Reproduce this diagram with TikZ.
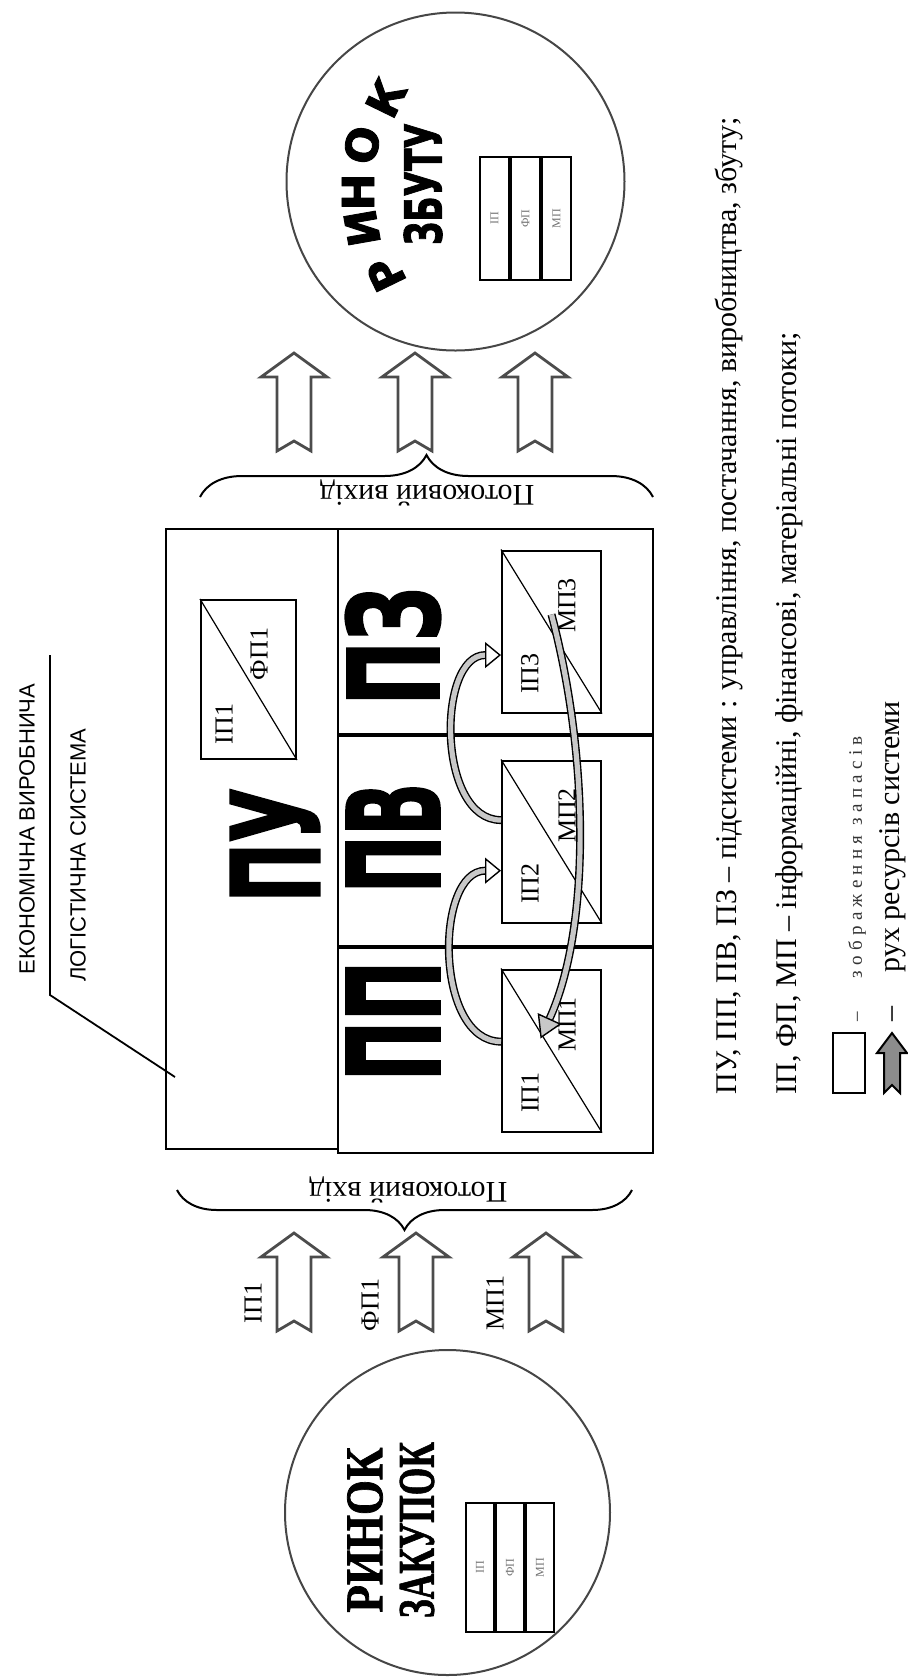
\documentclass[tikz,border=0pt]{standalone}
\usepackage{fontspec}
\setmainfont{Liberation Serif}
\setsansfont{Liberation Sans}
\newfontfamily\heavyfont{DejaVu Sans}[FakeBold=2]
\newfontfamily\wordartfont{Liberation Serif}[FakeBold=1.5]
\newfontfamily\spacedfont{Liberation Serif}[LetterSpace=28]
\usepackage{tikz}
\usetikzlibrary{arrows.meta,positioning,calc,decorations.pathreplacing}
\definecolor{bandgray}{RGB}{200,200,200}
\definecolor{rimgray}{RGB}{70,70,70}
\tikzstyle{subcell}=[draw,line width=1pt,inner sep=0pt]
\tikzstyle{bigsub}=[rotate=90,inner sep=0pt,font=\heavyfont\bfseries]
\tikzstyle{wordart}=[rotate=90,inner sep=0pt,font=\wordartfont\bfseries]
\tikzstyle{stock}=[draw,line width=1pt,minimum width=49.5pt,minimum height=81pt,inner sep=0pt]
\tikzstyle{stockcol}=[draw,line width=1pt,inner sep=0pt]
\tikzstyle{flowlabel}=[rotate=90,inner sep=0pt,font=\fontsize{13}{15}\selectfont]
\tikzstyle{tinylabel}=[rotate=90,inner sep=0pt,font=\fontsize{6}{7}\selectfont,text=black!55]
\tikzstyle{flowband}=[draw,line width=0.7pt,double=bandgray,double distance=2.6pt]
\tikzstyle{blockline}=[draw=black!70,line width=1.4pt,fill=white,line join=miter]
\tikzstyle{market}=[circle,draw=rimgray,line width=1pt,inner sep=0pt]
\tikzstyle{flowbrace}=[decorate,line width=1pt]
\tikzstyle{bracetext}=[rotate=180,inner sep=0pt,font=\fontsize{15}{17}\selectfont]
\tikzstyle{legend}=[rotate=90,anchor=west,inner sep=0pt,font=\fontsize{15}{17}\selectfont]
\tikzstyle{systext}=[rotate=90,inner sep=0pt,font=\sffamily\fontsize{11}{13}\selectfont]
\tikzset{
  blockup/.pic={
    \draw[blockline] (0,0) -- (33,24) -- (17,24) -- (17,98) -- (0,88) -- (-17,98)
      -- (-17,24) -- (-33,24) -- cycle;
  },
  resarrow/.pic={
    \draw[line width=1pt,fill=black!45] (0,0) -- (15,20) -- (8,20) -- (8,60) -- (0,52)
      -- (-8,60) -- (-8,20) -- (-15,20) -- cycle;
  }
}

\begin{document}
\begin{tikzpicture}[x=0.5pt,y=-0.5pt]
\useasboundingbox (0,0) rectangle (908,1678);

% markets
\node[market,minimum size=169pt] (rzbut) at (455.5,181.5) {};
\node[market,minimum size=162.5pt] (rzak) at (447.5,1512.5) {};

\foreach \ch/\cx/\cy/\ang [count=\k] in {Р/386/274/116,И/362/228/100,Н/358/192/90,О/362/145/78,К/386/98/64}
  \node[rotate=\ang,inner sep=0pt,font=\heavyfont\bfseries\fontsize{22}{24}\selectfont] (rl\k) at (\cx,\cy) {\ch};
\node[bigsub] (tzbut) at (423,184) {\resizebox{61pt}{19pt}{ЗБУТУ}};
\node[wordart] (trin) at (365,1530) {\resizebox{82.5pt}{17.5pt}{РИНОК}};
\node[wordart] (tzak) at (417,1530) {\resizebox{88pt}{17pt}{ЗАКУПОК}};

% stock tables in markets
\node[stockcol,minimum width=14.5pt,minimum height=61.5pt] (zc1) at (494.5,218.5) {};
\node[stockcol,minimum width=14.5pt,minimum height=61.5pt,right=0pt of zc1] (zc2) {};
\node[stockcol,minimum width=14.5pt,minimum height=61.5pt,right=0pt of zc2] (zc3) {};
\node[stockcol,minimum width=14pt,minimum height=64.5pt] (kc1) at (480,1567.5) {};
\node[stockcol,minimum width=14pt,minimum height=64.5pt,right=0pt of kc1] (kc2) {};
\node[stockcol,minimum width=14pt,minimum height=64.5pt,right=0pt of kc2] (kc3) {};
\foreach \t/\lab in {c1/ІП,c2/ФП,c3/МП} {
  \node[tinylabel] at (z\t) {\lab};
  \node[tinylabel] at (k\t) {\lab};
}

% system
\node[subcell,minimum width=86pt,minimum height=310pt] (pu) at (252,839) {};
\node[subcell,minimum width=157.5pt,minimum height=102.5pt] (pz) at (495.5,631.5) {};
\node[subcell,minimum width=157.5pt,minimum height=105pt,below=0pt of pz] (pv) {};
\node[subcell,minimum width=157.5pt,minimum height=102.5pt,below=0pt of pv] (pp) {};

\node[bigsub] (tpu) at (275,845) {\resizebox{57.5pt}{44.5pt}{ПУ}};
\node[bigsub] (tpz) at (393,646) {\resizebox{59.5pt}{46.5pt}{ПЗ}};
\node[bigsub] (tpv) at (393,838) {\resizebox{55pt}{46.5pt}{ПВ}};
\node[bigsub] (tpp) at (393,1021) {\resizebox{60pt}{46.5pt}{ПП}};

% stocks
\node[stock,minimum width=47.5pt,minimum height=79.5pt] (sbu) at (248.5,679.5) {};
\draw[line width=0.6pt] (sbu.north west) -- (sbu.south east);
\node[flowlabel] (ipu) at (224,724) {ІП1};
\node[flowlabel] (fpu) at (259,654) {ФП1};

\node[stock] (sb3) at (551.5,631.5) {};
\node[stock] (sb2) at (551.5,841.5) {};
\node[stock] (sb1) at (551.5,1050.5) {};
\foreach \b/\i in {sb1/1,sb2/2,sb3/3} {
  \draw[line width=0.6pt] (\b.north west) -- (\b.south east);
  \node[flowlabel] (ip\i) at ($(\b.center)+(-21.5,42)$) {ІП\i};
  \node[flowlabel] (mp\i) at ($(\b.center)+(15.5,-26)$) {МП\i};
}

% flows between subsystems
\draw[flowband,-{Triangle[length=8pt,width=13pt,fill=white]}] (sb1.170) to[out=180,in=180] (sb2.210);
\draw[flowband,-{Triangle[length=8pt,width=13pt,fill=white]}] (sb2.157) to[out=180,in=180] (sb3.205);
\draw[flowband,-{Triangle[length=11pt,width=13pt,fill=bandgray]}] ($(sb3.center)+(0,-17)$)
  .. controls (590,760) and (590,930) .. ($(sb1.center)+(-11,-12)$);

% system label
\node[systext] (sys1) at (27,829) {ЕКОНОМІЧНА ВИРОБНИЧА};
\node[systext] (sys2) at (78,855) {ЛОГІСТИЧНА СИСТЕМА};
\coordinate (ptrtop) at (50,655);
\coordinate (ptrknee) at (50,995);
\coordinate (ptrend) at (175,1077);
\draw[line width=0.9pt] (ptrtop) -- (ptrknee) -- (ptrend);

% resource arrows
\foreach \ax in {294,415,535}
  \pic at (\ax,353) {blockup};
\foreach \ax in {294,416,546}
  \pic at (\ax,1233) {blockup};
\node[flowlabel] (lip) at (253,1303) {ІП1};
\node[flowlabel] (lfp) at (370,1305) {ФП1};
\node[flowlabel] (lmp) at (495,1303) {МП1};

% braces
\draw[flowbrace,decoration={brace,amplitude=21pt}] (200,497) -- (653,497);
\node[bracetext] (fout) at (427,493) {Потоковий вихід};
\draw[flowbrace,decoration={brace,amplitude=20pt}] (632,1190) -- (177,1190);
\node[bracetext] (fin) at (408,1190) {Потоковий вхід};

% legend
\node[legend] (leg1) at (729,1095) {ПУ, ПП, ПВ, ПЗ – підсистеми : управління, постачання, виробництва, збуту;};
\node[legend] (leg2) at (789,1095) {ІП, ФП, МП – інформаційні, фінансові, матеріальні потоки;};
\node[stockcol,minimum width=16pt,minimum height=30pt] (legbox) at (849,1063) {};
\pic at (892,1033) {resarrow};
\node[legend,font=\fontsize{9.5}{11}\selectfont,text=black!80] (leg3) at (857,1022) {–\hspace{17pt}{\spacedfont зображення запасів}};
\node[legend] (leg4) at (893,1022) {–\hspace{17pt}рух ресурсів системи};
\end{tikzpicture}
\end{document}
